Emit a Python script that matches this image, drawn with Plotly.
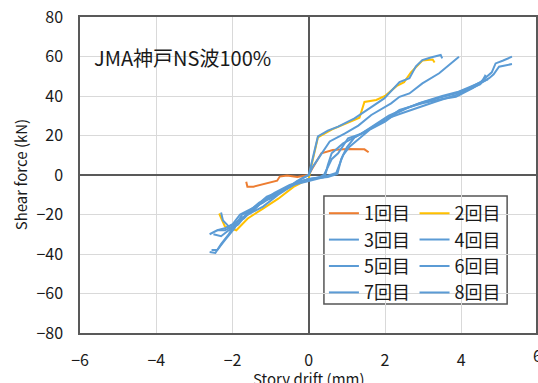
import plotly.graph_objects as go

# ---- data ----
run_names = ["1回目", "2回目", "3回目", "4回目", "5回目", "6回目", "7回目", "8回目"]
run_colors = ["#ED7D31", "#FFC000", "#5B9BD5", "#5B9BD5", "#5B9BD5", "#5B9BD5", "#5B9BD5", "#5B9BD5"]

run1_x = [-1.64, -1.61, -1.45, -1.10, -0.83, -0.76, -0.57, -0.30, 0.00, 0.07, 0.20, 0.33, 0.63, 1.00, 1.46, 1.57]
run1_y = [-3.4, -5.9, -5.9, -4.2, -2.9, -0.8, -0.3, -1.0, 0.0, 2.5, 7.0, 11.0, 12.7, 13.2, 13.0, 11.5]

run2_x = [-2.35, -2.30, -2.20, -1.90, -1.60, -1.20, -0.80, -0.40, 0.00, 0.05, 0.24, 0.60, 1.00, 1.33, 1.46, 1.77, 2.00, 2.30, 2.50, 2.68, 2.98, 3.25, 3.30]
run2_y = [-19.5, -22.0, -26.0, -28.0, -22.0, -17.0, -12.0, -6.0, -2.0, 3.0, 19.0, 23.0, 26.5, 29.0, 37.0, 38.0, 40.0, 45.0, 47.0, 52.0, 58.0, 58.5, 57.0]

run3_x = [-2.30, -2.25, -2.10, -1.90, -1.60, -1.30, -1.00, -0.60, -0.30, 0.00, 0.05, 0.24, 0.50, 0.77, 1.20, 1.64, 1.98, 2.38, 2.64, 2.81, 2.98, 3.20, 3.46, 3.50]
run3_y = [-19.0, -23.0, -26.0, -24.0, -20.0, -15.0, -11.0, -7.0, -3.0, 0.0, 4.0, 19.5, 22.5, 24.5, 28.7, 34.6, 38.8, 47.0, 49.0, 55.0, 58.2, 59.5, 60.8, 59.0]

run4_x = [-2.60, -2.40, -2.20, -2.00, -1.80, -1.50, -1.20, -0.90, -0.50, -0.20, 0.00, 0.10, 0.30, 0.55, 0.94, 1.30, 1.64, 2.16, 2.38, 2.64, 2.98, 3.42, 3.94]
run4_y = [-30.0, -28.0, -27.0, -25.0, -20.0, -17.0, -14.0, -10.0, -6.0, -2.0, 0.0, 4.0, 10.0, 17.0, 21.0, 25.0, 30.4, 36.3, 39.6, 41.3, 46.4, 51.5, 59.9]

run5_x = [-2.60, -2.45, -2.30, -2.10, -1.90, -1.70, -1.40, -1.10, -0.70, -0.30, 0.00, 0.40, 0.72, 0.90, 1.07, 1.30, 1.59, 2.00, 2.29, 2.60, 2.90, 3.40, 3.86, 4.20, 4.50, 4.80, 4.90, 5.10, 5.33]
run5_y = [-39.0, -39.5, -35.0, -30.0, -24.0, -22.0, -16.0, -11.0, -8.0, -4.0, -2.0, -1.0, 1.0, 10.0, 14.3, 18.0, 22.8, 27.0, 31.2, 34.0, 36.3, 39.0, 41.4, 44.0, 47.0, 52.0, 56.5, 58.0, 59.9]

run6_x = [-2.55, -2.40, -2.20, -1.95, -1.75, -1.45, -1.20, -0.90, -0.50, 0.00, 0.50, 0.75, 0.85, 1.00, 1.20, 1.60, 2.07, 2.38, 2.98, 3.50, 3.86, 4.30, 4.73, 4.85, 4.99, 5.33]
run6_y = [-38.0, -38.0, -33.0, -27.0, -20.0, -18.0, -13.0, -9.0, -5.0, -2.0, -1.0, 0.5, 8.0, 14.0, 19.0, 23.5, 28.7, 32.9, 36.3, 38.5, 39.6, 44.0, 49.0, 51.0, 54.8, 56.2]

run7_x = [-2.50, -2.30, -2.10, -1.85, -1.60, -1.30, -1.00, -0.60, -0.20, 0.30, 0.40, 0.60, 0.77, 1.03, 1.40, 1.64, 2.07, 2.40, 2.90, 3.30, 3.86, 4.20, 4.50, 4.64, 4.58]
run7_y = [-30.0, -31.0, -28.0, -25.0, -19.0, -14.0, -12.0, -7.0, -3.0, -1.0, 0.0, 8.0, 11.0, 18.6, 21.0, 23.6, 28.7, 31.0, 34.5, 37.0, 40.5, 43.5, 46.0, 50.6, 48.5]

run8_x = [-2.40, -2.20, -2.00, -1.80, -1.50, -1.20, -0.80, -0.40, 0.00, 0.42, 0.50, 0.60, 0.90, 1.30, 1.70, 2.10, 2.50, 3.00, 3.50, 3.90, 4.40, 4.70]
run8_y = [-28.0, -28.0, -26.0, -22.0, -19.0, -16.0, -10.0, -5.0, -3.0, -1.0, 5.0, 11.0, 16.0, 20.0, 25.0, 30.0, 33.5, 37.0, 40.0, 42.0, 46.0, 48.5]

runs_x = [run1_x, run2_x, run3_x, run4_x, run5_x, run6_x, run7_x, run8_x]
runs_y = [run1_y, run2_y, run3_y, run4_y, run5_y, run6_y, run7_y, run8_y]

x_ticks = [-6, -4, -2, 0, 2, 4, 6]
y_ticks = [-80, -60, -40, -20, 0, 20, 40, 60, 80]

FONT = "Noto Sans CJK JP"
AXC = "#595959"
TXT = "#1a1a1a"

fig = go.Figure()
for i, (name, col, xs, ys) in enumerate(zip(run_names, run_colors, runs_x, runs_y)):
    fig.add_trace(go.Scatter(
        x=xs, y=ys, mode="lines", name=name,
        line=dict(color=col, width=2),
        legendgroup=name,
        legend="legend" if i % 2 == 0 else "legend2",
    ))

W, H = 538, 383
ML, MR, MT, MB = 80, 0, 17, 50
PW, PH = W - ML - MR, H - MT - MB

leg_common = dict(
    bgcolor="rgba(255,255,255,0)", borderwidth=0,
    font=dict(family=FONT, size=18, color=TXT),
    tracegroupgap=0, xanchor="left", yanchor="top", itemwidth=30,
)

fig.update_layout(
    width=W, height=H,
    margin=dict(l=ML, r=MR, t=MT, b=MB, pad=0),
    paper_bgcolor="white", plot_bgcolor="white",
    font=dict(family=FONT, size=16, color=TXT),
    showlegend=True,
    legend=dict(x=(325 - ML) / PW, y=(H - MB - 195) / PH, **leg_common),
    legend2=dict(x=(416 - ML) / PW, y=(H - MB - 195) / PH, **leg_common),
    xaxis=dict(
        range=[-6, 5.96], tickvals=x_ticks, ticktext=[str(v).replace("-", "−") for v in x_ticks],
        showgrid=True, gridcolor="#d9d9d9", gridwidth=1,
        zeroline=True, zerolinecolor=AXC, zerolinewidth=1.5,
        showline=True, mirror=True, linecolor=AXC, linewidth=1.5,
        ticks="", ticklabelstandoff=12, tickfont=dict(size=16),
    ),
    yaxis=dict(
        range=[-80, 80], tickvals=y_ticks,
        showgrid=True, gridcolor="#d9d9d9", gridwidth=1,
        zeroline=True, zerolinecolor=AXC, zerolinewidth=1.5,
        showline=True, mirror=True, linecolor=AXC, linewidth=1.5,
        ticks="", ticklabelstandoff=12, tickfont=dict(size=16),
    ),
    shapes=[dict(
        type="rect", xref="paper", yref="paper",
        x0=(325 - ML) / PW, x1=(509 - ML) / PW,
        y0=(H - MB - 304) / PH, y1=(H - MB - 196) / PH,
        line=dict(color="#555", width=1.5), fillcolor="white", layer="between",
    )],
    annotations=[
        dict(text="JMA神戸NS波100%", xref="paper", yref="paper",
             x=(92 - ML) / PW, y=(H - MB - 57) / PH, xanchor="left", yanchor="middle",
             showarrow=False, font=dict(family=FONT, size=20, color=TXT)),
        dict(text="6", xref="paper", yref="paper", x=(540 - ML) / PW, y=-(355 - (H - MB)) / PH,
             xanchor="center", yanchor="middle", showarrow=False, font=dict(size=16)),
        dict(text="Shear force (kN)", xref="paper", yref="paper", textangle=-90,
             x=-(ML - 20) / PW, y=0.5, xanchor="center", yanchor="middle",
             showarrow=False, font=dict(family=FONT, size=15, color=TXT)),
        dict(text="Story drift (mm)", xref="paper", yref="paper",
             x=(310 - ML) / PW, y=-(378 - (H - MB)) / PH, xanchor="center", yanchor="middle",
             showarrow=False, font=dict(family=FONT, size=15, color=TXT)),
    ],
)

fig.write_html(
    "out.html",
    config={"displayModeBar": False},
    post_script="document.body.style.margin='0';document.body.style.overflow='hidden';",
)
